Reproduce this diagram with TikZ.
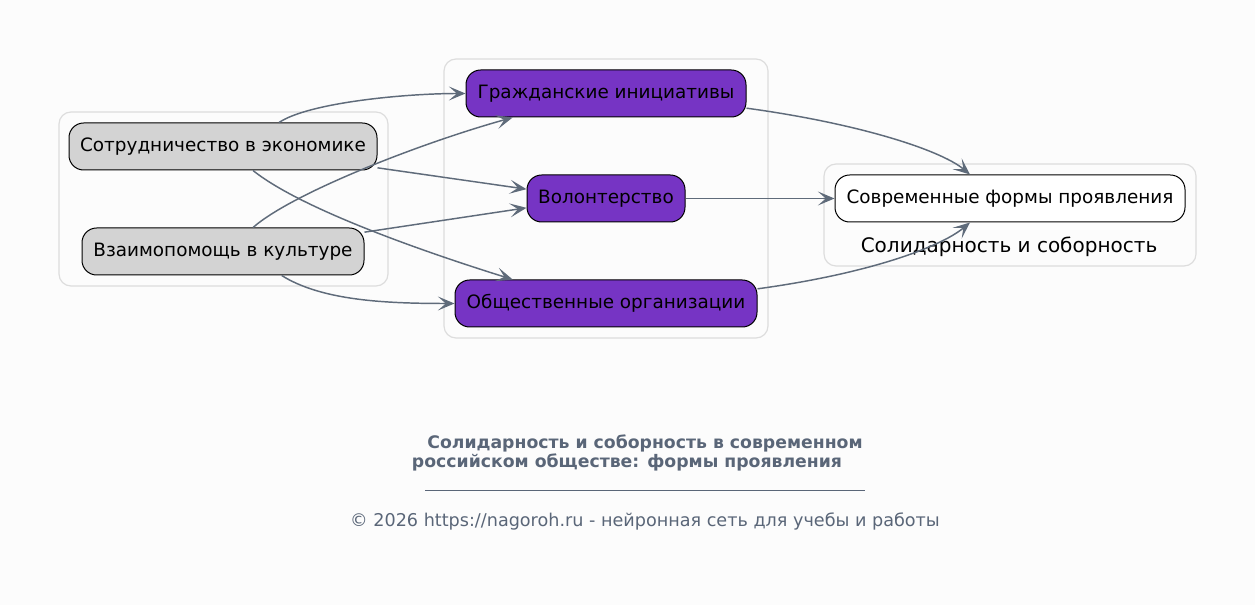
\documentclass[tikz,border=0pt]{standalone}
\usepackage{fontspec}
\setmainfont{DejaVu Sans}
\usetikzlibrary{arrows.meta}
\definecolor{bg}{HTML}{FCFCFC}
\definecolor{clus}{HTML}{DDDDDD}
\definecolor{grayn}{HTML}{D3D3D3}
\definecolor{purp}{HTML}{7634C4}
\definecolor{edge}{HTML}{5F6B7A}
\definecolor{ttl}{HTML}{5A6678}
\tikzset{
  px/.style={x=0.75pt,y=-0.75pt},
  cluster/.style={draw=clus,line width=0.9pt,rounded corners=9pt},
  nodebox/.style={draw=black,line width=0.75pt,rounded corners=11pt,minimum height=35.25pt,inner xsep=4pt,font=\fontsize{13.8}{16}\selectfont,text=black},
  graynode/.style={nodebox,fill=grayn},
  purpnode/.style={nodebox,fill=purp},
  whitenode/.style={nodebox,fill=white},
  conn/.style={draw=edge,line width=1.1pt,-{Stealth[length=12.5pt,width=10.5pt,inset=6pt]}},
}
\begin{document}
\begin{tikzpicture}[px]
\useasboundingbox (0,0) rectangle (1255,605);
\fill[bg] (0,0) rectangle (1255,605);
% clusters
\draw[cluster] (59,112) rectangle (388,286);
\draw[cluster] (444,59) rectangle (768,338);
\draw[cluster] (824,164) rectangle (1196,266);
\node[font=\fontsize{15}{18}\selectfont] (clab) at (1009,247) {Солидарность и соборность};
% nodes
\node[graynode,minimum width=231pt] (a) at (223,146.5) {Сотрудничество в экономике};
\node[graynode,minimum width=211.5pt] (b) at (223,251.5) {Взаимопомощь в культуре};
\node[purpnode,minimum width=210pt] (g) at (606,93.5) {Гражданские инициативы};
\node[purpnode,minimum width=118.5pt] (v) at (606,198.5) {Волонтерство};
\node[purpnode,minimum width=226.5pt] (o) at (606,303.5) {Общественные организации};
\node[whitenode,minimum width=262.5pt] (s) at (1010,198.5) {Современные формы проявления};
% edges
\draw[conn] ([xshift=42pt]a.north) .. controls +(30,-20) and +(-60,0) .. (g.west);
\draw[conn] ([yshift=-16pt]a.east) -- ([yshift=7pt]v.west);
\draw[conn] ([xshift=22.5pt]a.south) .. controls +(50,40) and +(-80,-25) .. ([xshift=-70pt]o.north);
\draw[conn] ([xshift=22.5pt]b.north) .. controls +(40,-35) and +(-90,25) .. ([xshift=-70pt]g.south);
\draw[conn] ([yshift=14.5pt]b.east) -- ([yshift=-7pt]v.west);
\draw[conn] ([xshift=44pt]b.south) .. controls +(40,25) and +(-70,0) .. (o.west);
\draw[conn] ([yshift=-11pt]g.east) .. controls +(110,15) and +(-30,-25) .. ([xshift=-30pt]s.north);
\draw[conn] (v.east) -- (s.west);
\draw[conn] ([yshift=11pt]o.east) .. controls +(110,-15) and +(-30,25) .. ([xshift=-30pt]s.south);
% title
\node[font=\fontsize{12.95}{15}\selectfont\bfseries,text=ttl] (t1) at (645,443) {Солидарность и соборность в современном};
\node[font=\fontsize{12.95}{15}\selectfont\bfseries,text=ttl] (t2) at (627,462) {российском обществе: формы проявления};
\coordinate (l1) at (425,490);
\coordinate (l2) at (865,490);
\draw[ttl,line width=0.6pt] (l1) -- (l2);
\node[font=\fontsize{13.2}{15}\selectfont,text=ttl] (foot) at (645,521) {© 2026 https://nagoroh.ru - нейронная сеть для учебы и работы};
\end{tikzpicture}
\end{document}
